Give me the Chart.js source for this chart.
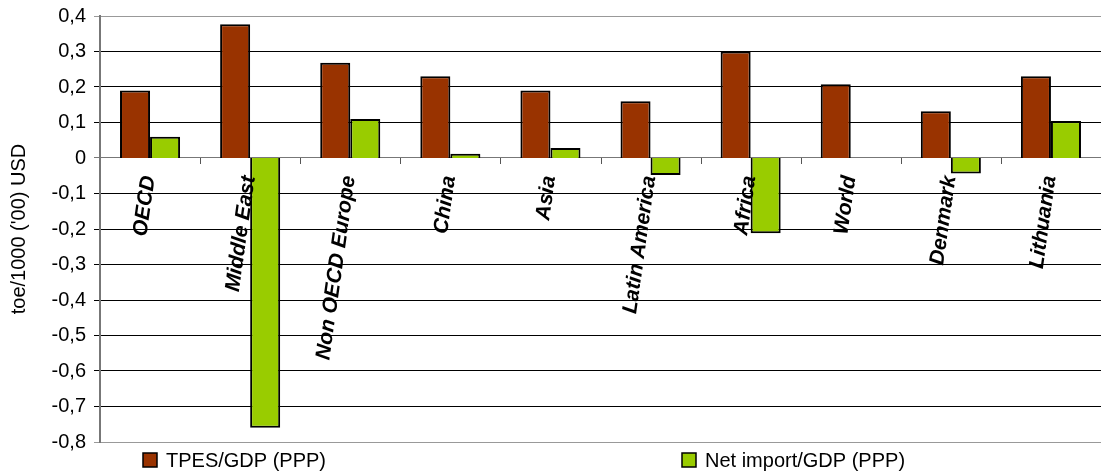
<!DOCTYPE html>
<html>
<head>
<meta charset="utf-8">
<script src="https://cdn.jsdelivr.net/npm/chart.js@4/dist/chart.umd.min.js"></script>
<style>
  body { margin: 0; background: #fff; }
  #wrap { width: 1101px; height: 474px; position: relative; }
</style>
</head>
<body>
<div id="wrap"><canvas id="energyChart"></canvas></div>
<script>
const categories = ['OECD', 'Middle East', 'Non OECD Europe', 'China', 'Asia',
    'Latin America', 'Africa', 'World', 'Denmark', 'Lithuania'];
const tpesGdp = [0.19, 0.377, 0.268, 0.23, 0.19, 0.16, 0.30, 0.208, 0.132, 0.23];
const netImportGdp = [0.06, -0.76, 0.11, 0.012, 0.028, -0.048, -0.212, null, -0.044, 0.104];
const seriesNames = ['TPES/GDP (PPP)', 'Net import/GDP (PPP)'];
const seriesColors = ['#993300', '#99cc00'];

// category names sit inside the plot, just under the zero line
const categoryLabels = {
    id: 'categoryLabels',
    afterDatasetsDraw(chart) {
        const ctx = chart.ctx;
        const x = chart.scales.x;
        const y0 = chart.scales.y.getPixelForValue(0);
        ctx.save();
        // small tick marks between categories on the zero line
        ctx.strokeStyle = '#555';
        ctx.lineWidth = 1;
        for (let i = 1; i < categories.length; i++) {
            const bx = Math.round((x.getPixelForValue(i - 1) + x.getPixelForValue(i)) / 2) + 0.5;
            ctx.beginPath();
            ctx.moveTo(bx, y0);
            ctx.lineTo(bx, y0 + 6);
            ctx.stroke();
        }
        ctx.fillStyle = '#000';
        ctx.font = 'italic bold 21px "Liberation Sans", Arial, sans-serif';
        ctx.textAlign = 'right';
        ctx.textBaseline = 'middle';
        categories.forEach((c, i) => {
            ctx.save();
            ctx.translate(x.getPixelForValue(i) - 1, y0 + 18);
            ctx.rotate(-82 * Math.PI / 180);
            ctx.fillText(c, 0, 0);
            ctx.restore();
        });
        ctx.restore();
    }
};

// legend drawn along the bottom, items spread like the original
const bottomLegend = {
    id: 'bottomLegend',
    afterDraw(chart) {
        const ctx = chart.ctx;
        const starts = [143, 682];
        const cy = 460;
        ctx.save();
        ctx.font = '20px "Liberation Sans", Arial, sans-serif';
        ctx.textBaseline = 'middle';
        ctx.textAlign = 'left';
        chart.data.datasets.forEach((ds, i) => {
            ctx.fillStyle = ds.backgroundColor;
            ctx.fillRect(starts[i], cy - 7, 14, 14);
            ctx.strokeStyle = '#000';
            ctx.lineWidth = 1.5;
            ctx.strokeRect(starts[i], cy - 7, 14, 14);
            ctx.fillStyle = '#000';
            ctx.fillText(ds.label, starts[i] + 23, cy + 1);
        });
        ctx.restore();
    }
};

const data = {
    labels: categories,
    datasets: [{
        label: seriesNames[0],
        data: tpesGdp,
        backgroundColor: seriesColors[0],
        borderColor: '#000',
        borderWidth: 2
    }, {
        label: seriesNames[1],
        data: netImportGdp,
        backgroundColor: seriesColors[1],
        borderColor: '#000',
        borderWidth: 2
    }]
};

const config = {
    type: 'bar',
    data: data,
    options: {
        responsive: true,
        maintainAspectRatio: false,
        animation: false,
        layout: {
            padding: { top: 16, bottom: 32, left: 0, right: 0 }
        },
        datasets: {
            bar: {
                categoryPercentage: 0.6,
                barPercentage: 1.0
            }
        },
        scales: {
            x: {
                display: false
            },
            y: {
                min: -0.8,
                max: 0.4,
                ticks: {
                    stepSize: 0.1,
                    color: '#000',
                    padding: 8,
                    font: { size: 20, family: '"Liberation Sans", Arial, sans-serif' },
                    callback: v => (Math.round(v * 10) / 10).toString().replace('.', ',')
                },
                grid: {
                    tickLength: 6,
                    color: c => {
                        const v = Math.round(c.tick.value * 10) / 10;
                        if (v === 0.4 || v === -0.8) return '#999';
                        if (v === 0) return '#777';
                        return '#000';
                    }
                },
                border: { color: '#777', width: 2 },
                title: {
                    display: true,
                    text: "toe/1000 ('00) USD",
                    color: '#000',
                    padding: { top: 7, bottom: 0 },
                    font: { size: 20, family: '"Liberation Sans", Arial, sans-serif' }
                },
                afterFit: s => {
                    s.width = 100;
                    s.paddingTop = 0;
                    s.paddingBottom = 0;
                }
            }
        },
        plugins: {
            legend: { display: false },
            tooltip: { enabled: false }
        }
    },
    plugins: [categoryLabels, bottomLegend]
};

const ctx = document.getElementById('energyChart').getContext('2d');
new Chart(ctx, config);
</script>
</body>
</html>
